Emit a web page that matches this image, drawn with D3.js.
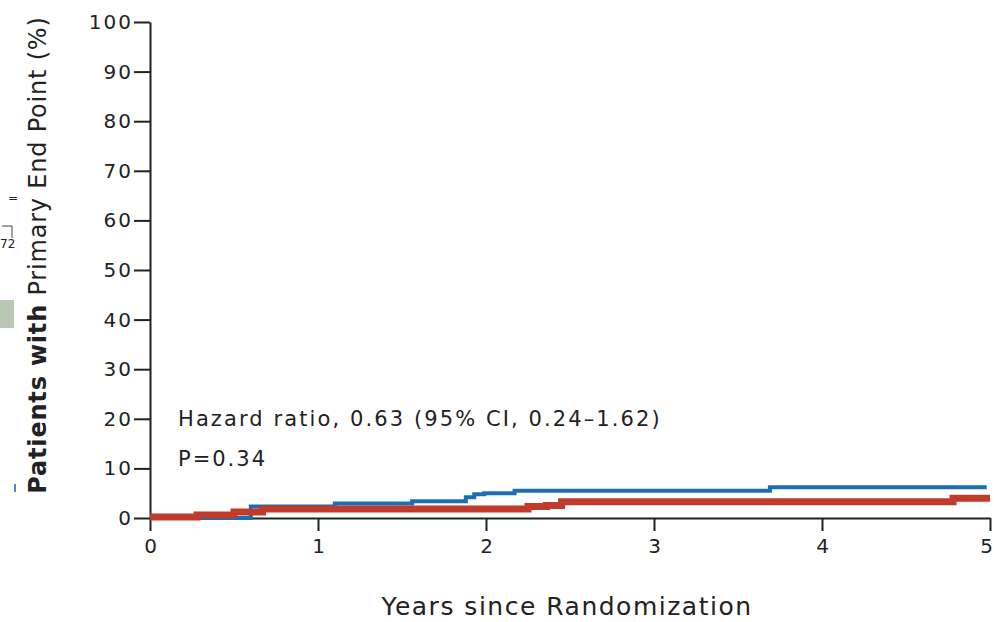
<!DOCTYPE html>
<html>
<head>
<meta charset="utf-8">
<script src="https://cdn.jsdelivr.net/npm/d3@7"></script>
<style>
  html, body { margin: 0; padding: 0; background: #fff; }
  svg text { font-family: "DejaVu Sans", "Liberation Sans", sans-serif; fill: #222; }
</style>
</head>
<body>
<svg id="chart" width="994" height="622"></svg>
<script>
// Cumulative incidence (%) by years since randomization, step curves
const blueTimes  = [0, 0.52, 0.60, 1.10, 1.56, 1.88, 1.93, 1.99, 2.17, 3.69, 4.98];
const blueValues = [0, 0.0, 2.3, 2.9, 3.4, 4.2, 4.8, 5.0, 5.5, 6.2, 6.2];

const redTimes  = [0, 0.28, 0.50, 0.67, 2.25, 2.36, 2.45, 4.78, 5.0];
const redValues = [0.2, 0.6, 1.2, 1.8, 2.3, 2.5, 3.3, 4.0, 4.0];

const xTicks = [0, 1, 2, 3, 4, 5];
const yTicks = [0, 10, 20, 30, 40, 50, 60, 70, 80, 90, 100];

const hazardText = "Hazard ratio, 0.63 (95% CI, 0.24\u20131.62)";
const pText = "P=0.34";

const svg = d3.select("#chart");
const x = d3.scaleLinear().domain([0, 5]).range([150, 990]);
const y = d3.scaleLinear().domain([0, 100]).range([518, 22]);

// Y axis
const yAxis = svg.append("g")
  .attr("transform", `translate(${x(0)},0)`)
  .call(d3.axisLeft(y).tickValues(yTicks).tickSize(16).tickPadding(1).tickSizeOuter(0));
yAxis.select(".domain").attr("stroke", "#222").attr("stroke-width", 2);
yAxis.selectAll(".tick line").attr("stroke", "#222").attr("stroke-width", 2);
yAxis.selectAll(".tick text")
  .style("font-size", "20px").style("letter-spacing", "2px").attr("fill", "#222");

// X axis
const xAxis = svg.append("g")
  .attr("transform", `translate(0,${y(0)})`)
  .call(d3.axisBottom(x).tickValues(xTicks).tickFormat(d3.format("d"))
    .tickSize(13).tickPadding(8).tickSizeOuter(0));
xAxis.select(".domain").attr("stroke", "#222").attr("stroke-width", 2);
xAxis.selectAll(".tick line").attr("stroke", "#222").attr("stroke-width", 2);
xAxis.selectAll(".tick text")
  .style("font-size", "20px").attr("fill", "#222");
// keep the last label inside the frame
xAxis.selectAll(".tick text").filter(d => d === 5).attr("dx", "-4");

// Step curves
const line = d3.line()
  .x(d => x(d[0]))
  .y(d => y(d[1]))
  .curve(d3.curveStepAfter);

svg.append("path")
  .datum(blueTimes.map((t, i) => [t, blueValues[i]]))
  .attr("d", line)
  .attr("fill", "none")
  .attr("stroke", "#1c6db4")
  .attr("stroke-width", 4);

svg.append("path")
  .datum(redTimes.map((t, i) => [t, redValues[i]]))
  .attr("d", line)
  .attr("fill", "none")
  .attr("stroke", "#c03b2b")
  .attr("stroke-width", 7);

// Annotations
svg.append("text").attr("x", 178).attr("y", 426)
  .style("font-size", "21px").style("letter-spacing", "2.1px").text(hazardText);
svg.append("text").attr("x", 178).attr("y", 466)
  .style("font-size", "21px").style("letter-spacing", "2px").text(pText);

// Axis titles
svg.append("text")
  .attr("x", 567).attr("y", 615)
  .attr("text-anchor", "middle")
  .style("font-size", "25px").style("letter-spacing", "1.5px")
  .text("Years since Randomization");

const yTitle = svg.append("text")
  .attr("transform", "translate(46,255) rotate(-90)")
  .attr("text-anchor", "middle")
  .style("font-size", "24px").style("letter-spacing", "0.8px");
yTitle.append("tspan").style("font-weight", "bold").text("Patients with");
yTitle.append("tspan").text(" Primary End Point (%)");

// Fragments of the adjoining panel at the left edge
svg.append("rect").attr("x", 0).attr("y", 300).attr("width", 14).attr("height", 28).attr("fill", "#b8c8b4");
svg.append("text").attr("x", 8).attr("y", 202).style("font-size", "12px").text("=");
svg.append("text").attr("x", 0).attr("y", 248).style("font-size", "12px").text("72");
svg.append("path").attr("d", "M2,226 H12 V238").attr("fill", "none").attr("stroke", "#444").attr("stroke-width", 1);
svg.append("rect").attr("x", 14).attr("y", 484).attr("width", 2).attr("height", 8).attr("fill", "#5b7fd0");
</script>
</body>
</html>
